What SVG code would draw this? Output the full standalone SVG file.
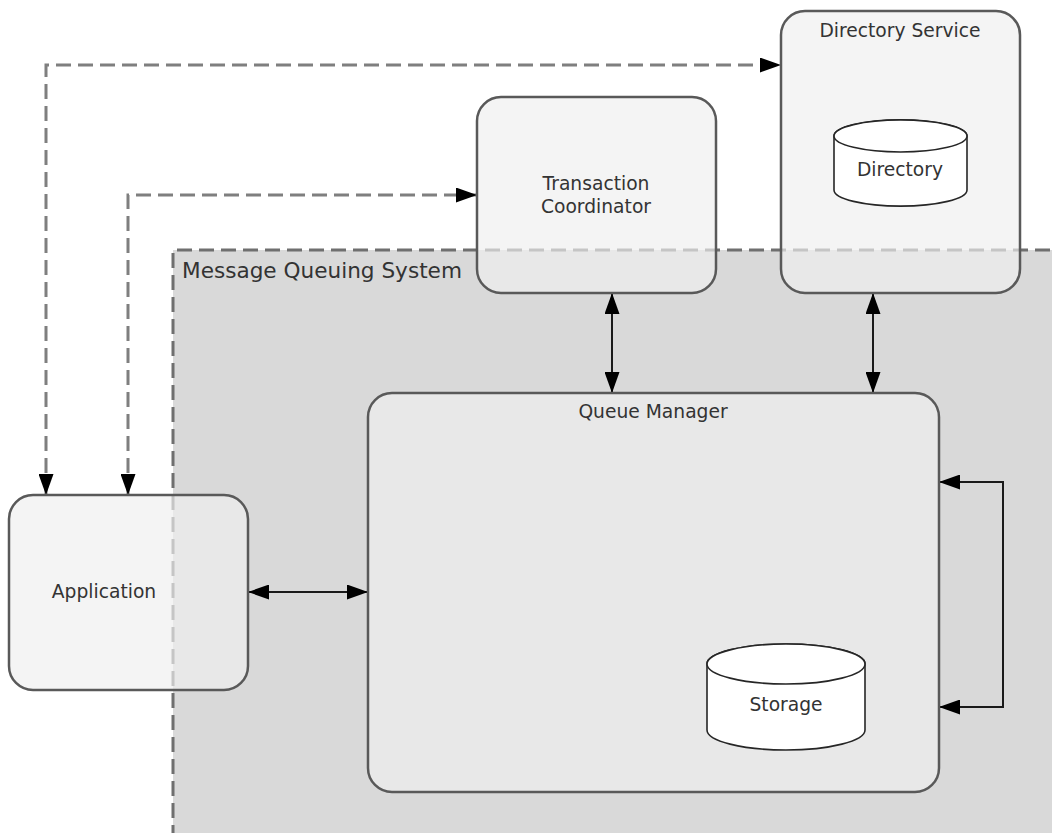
<svg xmlns="http://www.w3.org/2000/svg" width="1052" height="833" viewBox="0 0 1052 833">
<defs>
<marker id="ah" viewBox="0 0 21 15" refX="21" refY="7.5" markerWidth="21" markerHeight="15" markerUnits="userSpaceOnUse" orient="auto-start-reverse">
<path d="M0,0 L21,7.5 L0,15 Z" fill="#000"/>
</marker>
</defs>
<style>
.node{fill:#efefef;fill-opacity:0.68;stroke:#595959;stroke-width:2.5}
.cyl{fill:#fff;stroke:#262626;stroke-width:1.6}
.lbl{font-family:"DejaVu Sans",Verdana,sans-serif;font-size:18.7px;fill:#333;text-anchor:middle}
.dash{fill:none;stroke:#7f7f7f;stroke-width:3;stroke-dasharray:15 7}
.solid{fill:none;stroke:#1a1a1a;stroke-width:2}
</style>
<rect width="1052" height="833" fill="#fff"/>
<g id="message-queuing-system">
<rect x="173" y="250" width="900" height="620" fill="#d9d9d9"/>
<path d="M173,840 L173,250 L1060,250" fill="none" stroke="#6f6f6f" stroke-width="3" stroke-dasharray="15 7"/>
<text x="182" y="278" style="font-family:'DejaVu Sans',Verdana,sans-serif;font-size:21.6px;fill:#333">Message Queuing System</text>
</g>
<g id="connectors">
<path class="dash" d="M46,495 L46,65 L781,65" marker-start="url(#ah)" marker-end="url(#ah)"/>
<path class="dash" d="M128,495 L128,195 L477,195" marker-start="url(#ah)" marker-end="url(#ah)"/>
<path class="solid" d="M612,293 L612,393" marker-start="url(#ah)" marker-end="url(#ah)"/>
<path class="solid" d="M873,293 L873,393" marker-start="url(#ah)" marker-end="url(#ah)"/>
<path class="solid" d="M248,592 L368,592" marker-start="url(#ah)" marker-end="url(#ah)"/>
<path class="solid" d="M939,482 L1003,482 L1003,707 L939,707" marker-start="url(#ah)" marker-end="url(#ah)"/>
</g>
<g id="transaction-coordinator">
<rect class="node" x="477" y="97" width="239" height="196" rx="24"/>
<text class="lbl" x="596" y="190">Transaction</text>
<text class="lbl" x="596" y="213">Coordinator</text>
</g>
<g id="directory-service">
<rect class="node" x="781" y="11" width="239" height="282" rx="24"/>
<text class="lbl" x="900" y="37">Directory Service</text>
</g>
<g id="directory">
<path class="cyl" d="M834,136 L834,190 A66,16 0 0 0 967,190 L967,136 A66,16 0 0 0 834,136 Z"/>
<ellipse class="cyl" cx="900.5" cy="136" rx="66.5" ry="16"/>
<text class="lbl" x="900" y="176">Directory</text>
</g>
<g id="queue-manager">
<rect class="node" x="368" y="393" width="571" height="399" rx="24"/>
<text class="lbl" x="653" y="418">Queue Manager</text>
</g>
<g id="storage">
<path class="cyl" d="M707,664 L707,730 A79,20 0 0 0 865,730 L865,664 A79,20 0 0 0 707,664 Z"/>
<ellipse class="cyl" cx="786" cy="664" rx="79" ry="20"/>
<text class="lbl" x="786" y="711">Storage</text>
</g>
<g id="application">
<rect class="node" x="9" y="495" width="239" height="195" rx="24"/>
<text class="lbl" x="104" y="598">Application</text>
</g>
</svg>
